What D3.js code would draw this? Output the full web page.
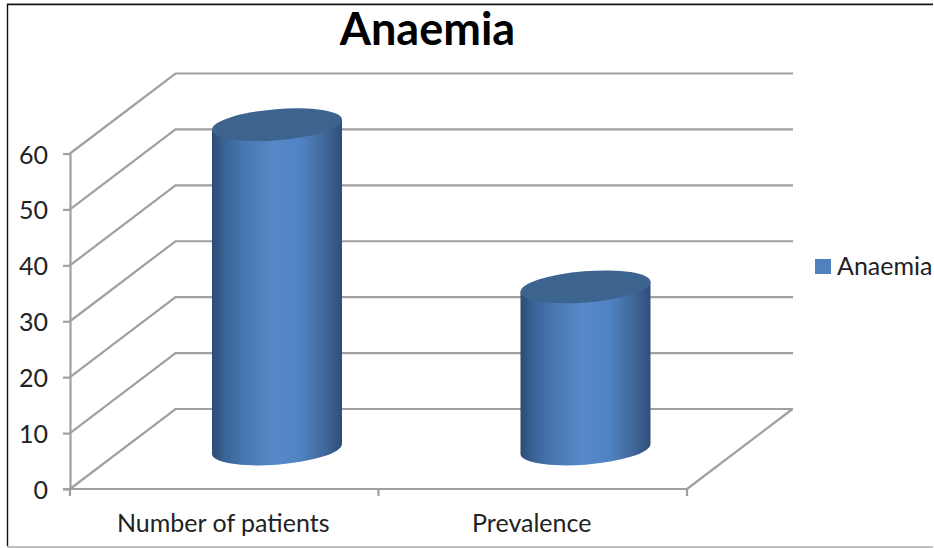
<!DOCTYPE html>
<html>
<head>
<meta charset="utf-8">
<script src="https://cdn.jsdelivr.net/npm/d3@7"></script>
<style>
  html, body { margin: 0; padding: 0; background: #fff; }
  svg { display: block; }
  text { font-family: Lato, "Open Sans", sans-serif; fill: #222; }
</style>
</head>
<body>
<svg id="chart"></svg>
<script>
// Chart data
const categories = ["Number of patients", "Prevalence"];
const values = [58, 29];
const yTicks = [0, 10, 20, 30, 40, 50, 60];
const seriesName = "Anaemia";
const chartTitle = "Anaemia";

const width = 934;
const height = 548;

const svg = d3.select("#chart").attr("width", width).attr("height", height);

// Outer frame
svg.append("path")
  .attr("d", "M7,3.5H933")
  .attr("fill", "none").attr("stroke", "#bbb").attr("stroke-width", 1);
svg.append("path")
  .attr("d", "M7.5,546V4.5H933")
  .attr("fill", "none").attr("stroke", "#111").attr("stroke-width", 1.4);
svg.append("path")
  .attr("d", "M7,547H933")
  .attr("fill", "none").attr("stroke", "#aaa").attr("stroke-width", 1.6);

// Scales: front plane of the 3D box
const x = d3.scaleBand().domain(categories).range([70, 687]);
const y = d3.scaleLinear().domain([0, 60]).range([489, 153.5]);

// Depth of the box (shift of the back wall)
const depthX = 105.5;
const depthY = -80;
const barDepth = 0.5;

const grid = svg.append("g").attr("fill", "none").attr("stroke", "#a0a0a0").attr("stroke-width", 2.2);

// Back wall gridlines and side wall diagonals
yTicks.forEach(t => {
  grid.append("path").attr("d", d3.line()([
    [x.range()[0], y(t)],
    [x.range()[0] + depthX, y(t) + depthY],
    [x.range()[1] + depthX + 0.5, y(t) + depthY]
  ]));
});

// Floor right edge
grid.append("path").attr("d", d3.line()([
  [x.range()[1], y(0)],
  [x.range()[1] + depthX, y(0) + depthY]
]));

// Y axis
const yAxis = svg.append("g")
  .attr("transform", `translate(${x.range()[0]},0)`)
  .call(d3.axisLeft(y).tickValues(yTicks).tickSize(7).tickPadding(15).tickSizeOuter(0));
yAxis.selectAll("path, line").attr("stroke", "#a0a0a0").attr("stroke-width", 2.2);
yAxis.selectAll("text")
  .attr("font-size", 25)
  .attr("dy", "0.38em")
  .style("font-family", "Lato")
  .attr("fill", "#222");

// X axis: ticks sit on the band edges
const xAxis = svg.append("g").attr("fill", "none").attr("stroke", "#a0a0a0").attr("stroke-width", 2.2);
xAxis.append("path").attr("d", d3.line()([[x.range()[0] - 7, y(0)], [x.range()[1], y(0)]]));
const xEdges = categories.map(c => x(c)).concat([x.range()[1]]);
xAxis.selectAll("line").data(xEdges).join("line")
  .attr("x1", d => d).attr("x2", d => d)
  .attr("y1", y(0)).attr("y2", y(0) + 7);

svg.selectAll("text.cat").data(categories).join("text")
  .attr("class", "cat")
  .attr("x", d => x(d) + x.bandwidth() / 2 - 1)
  .attr("y", 531.5)
  .attr("text-anchor", "middle")
  .attr("font-size", 25)
  .text(d => d);

// Cylinders
const defs = svg.append("defs");
const grad = defs.append("linearGradient").attr("id", "cyl").attr("x1", 0).attr("x2", 1).attr("y1", 0).attr("y2", 0);
[[0, "#2b4b73"], [0.1, "#3a6497"], [0.28, "#4a7ab5"], [0.48, "#5789c9"], [0.68, "#5083c3"], [0.86, "#41699c"], [1, "#2f4f78"]]
  .forEach(s => grad.append("stop").attr("offset", s[0]).attr("stop-color", s[1]));

const rx = 65.2;
const ry = 15.6;
const tilt = -4.65 * Math.PI / 180;
// extreme left/right point of the tilted ellipse, relative to its centre
const hw = Math.sqrt(rx * rx * Math.cos(tilt) ** 2 + ry * ry * Math.sin(tilt) ** 2);
const hy = (rx * rx - ry * ry) * Math.sin(tilt) * Math.cos(tilt) / hw;

const bars = svg.selectAll("g.bar").data(categories).join("g").attr("class", "bar");

bars.each(function (c, i) {
  const g = d3.select(this);
  const cx = x(c) + x.bandwidth() / 2 + depthX * barDepth;
  const yBase = y(0) + depthY * barDepth;
  const yTop = y(values[i]) + depthY * barDepth;
  const rot = tilt * 180 / Math.PI;
  g.append("path")
    .attr("d", `M${cx - hw},${yTop - hy}
      L${cx - hw},${yBase - hy}
      A${rx},${ry} ${rot} 0 0 ${cx + hw},${yBase + hy}
      L${cx + hw},${yTop + hy} Z`)
    .attr("fill", "url(#cyl)");
  g.append("ellipse")
    .attr("cx", cx).attr("cy", yTop)
    .attr("rx", rx).attr("ry", ry)
    .attr("transform", `rotate(${rot} ${cx} ${yTop})`)
    .attr("fill", "#3d638f");
});

// Title
svg.append("text")
  .attr("x", 427.5).attr("y", 45)
  .attr("text-anchor", "middle")
  .attr("font-size", 45).attr("font-weight", 700)
  .style("fill", "#000")
  .text(chartTitle);

// Legend
svg.append("rect").attr("x", 815).attr("y", 259).attr("width", 16).attr("height", 15).attr("fill", "#4f81bd");
svg.append("text").attr("x", 837).attr("y", 275).attr("font-size", 25).text(seriesName);
</script>
</body>
</html>
